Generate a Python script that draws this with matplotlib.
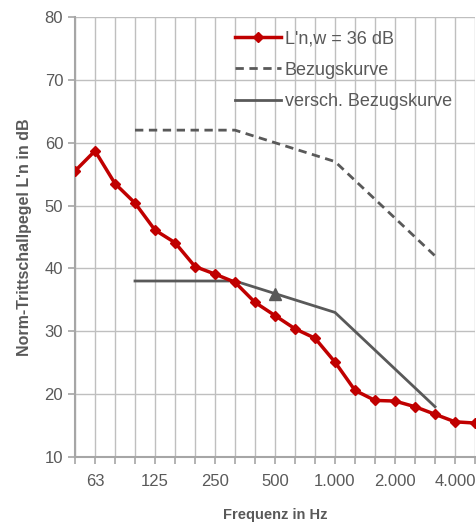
import numpy as np
import matplotlib.pyplot as plt

plt.rcParams['font.family'] = ['Liberation Sans', 'DejaVu Sans']

# Terzband-Frequenzen (Hz)
freqs = [50, 63, 80, 100, 125, 160, 200, 250, 315, 400, 500,
         630, 800, 1000, 1250, 1600, 2000, 2500, 3150, 4000, 5000]
labels = ['', '63', '', '', '125', '', '', '250', '', '', '500',
          '', '', '1.000', '', '', '2.000', '', '', '4.000', '']

# gemessener Norm-Trittschallpegel
measured = [55.5, 58.7, 53.5, 50.4, 46.1, 44.1, 40.3, 39.1, 37.8, 34.6, 32.5,
            30.4, 28.9, 25.1, 20.6, 19.0, 18.9, 18.0, 16.8, 15.6, 15.4]

# Bezugskurve nach ISO 717-2 (100 - 3150 Hz)
ref_freqs = [100, 125, 160, 200, 250, 315, 400, 500, 630, 800, 1000,
             1250, 1600, 2000, 2500, 3150]
reference = [62, 62, 62, 62, 62, 62, 61, 60, 59, 58, 57, 54, 51, 48, 45, 42]
shift = -24
shifted = [v + shift for v in reference]
lnw = 36

red = '#C00000'
dark = '#595959'
gridc = '#BFBFBF'

x = np.arange(len(freqs))
ref_x = [freqs.index(f) for f in ref_freqs]

fig = plt.figure(figsize=(4.77, 5.24), dpi=100)
ax = fig.add_axes([75 / 477, 1 - 457 / 524, 400 / 477, 440 / 524])

ax.plot(x, measured, color=red, lw=2.5, marker='D', ms=5, mec=red,
        label="L'n,w = 36 dB", zorder=4)
ax.plot(ref_x, reference, color=dark, lw=2, ls=(0, (3, 2)), label='Bezugskurve', zorder=3)
ax.plot(ref_x, shifted, color=dark, lw=2, label='versch. Bezugskurve', zorder=3)
ax.plot(freqs.index(500), lnw, marker='^', color=dark, ms=9, ls='none', zorder=5)

ax.set_xlim(0, len(freqs) - 1)
ax.set_ylim(10, 80)
ax.set_xticks(x)
ax.set_xticklabels(labels)
ax.set_yticks(range(10, 81, 10))

ax.grid(True, color=gridc, lw=1)
ax.set_axisbelow(True)
for side in ['top', 'right']:
    ax.spines[side].set_visible(False)
for side in ['left', 'bottom']:
    ax.spines[side].set_color('#A6A6A6')
    ax.spines[side].set_linewidth(1.5)
ax.tick_params(axis='both', colors='#A6A6A6', length=5, width=1.2,
               labelcolor=dark, labelsize=12)
ax.tick_params(axis='x', pad=7)

ax.set_xlabel('Frequenz in Hz', fontsize=10.5, fontweight='bold', color=dark, labelpad=14)
ax.set_ylabel("Norm-Trittschallpegel L'n in dB", fontsize=11.5, fontweight='bold',
              color=dark, labelpad=9)

leg = ax.legend(loc='upper left', bbox_to_anchor=(0.4, 0.97), frameon=False,
                fontsize=13, handlelength=2.55, handletextpad=0.2, labelspacing=0.8,
                borderaxespad=0, borderpad=0)
for t in leg.get_texts():
    t.set_color(dark)

fig.savefig('out.png', dpi=100)
